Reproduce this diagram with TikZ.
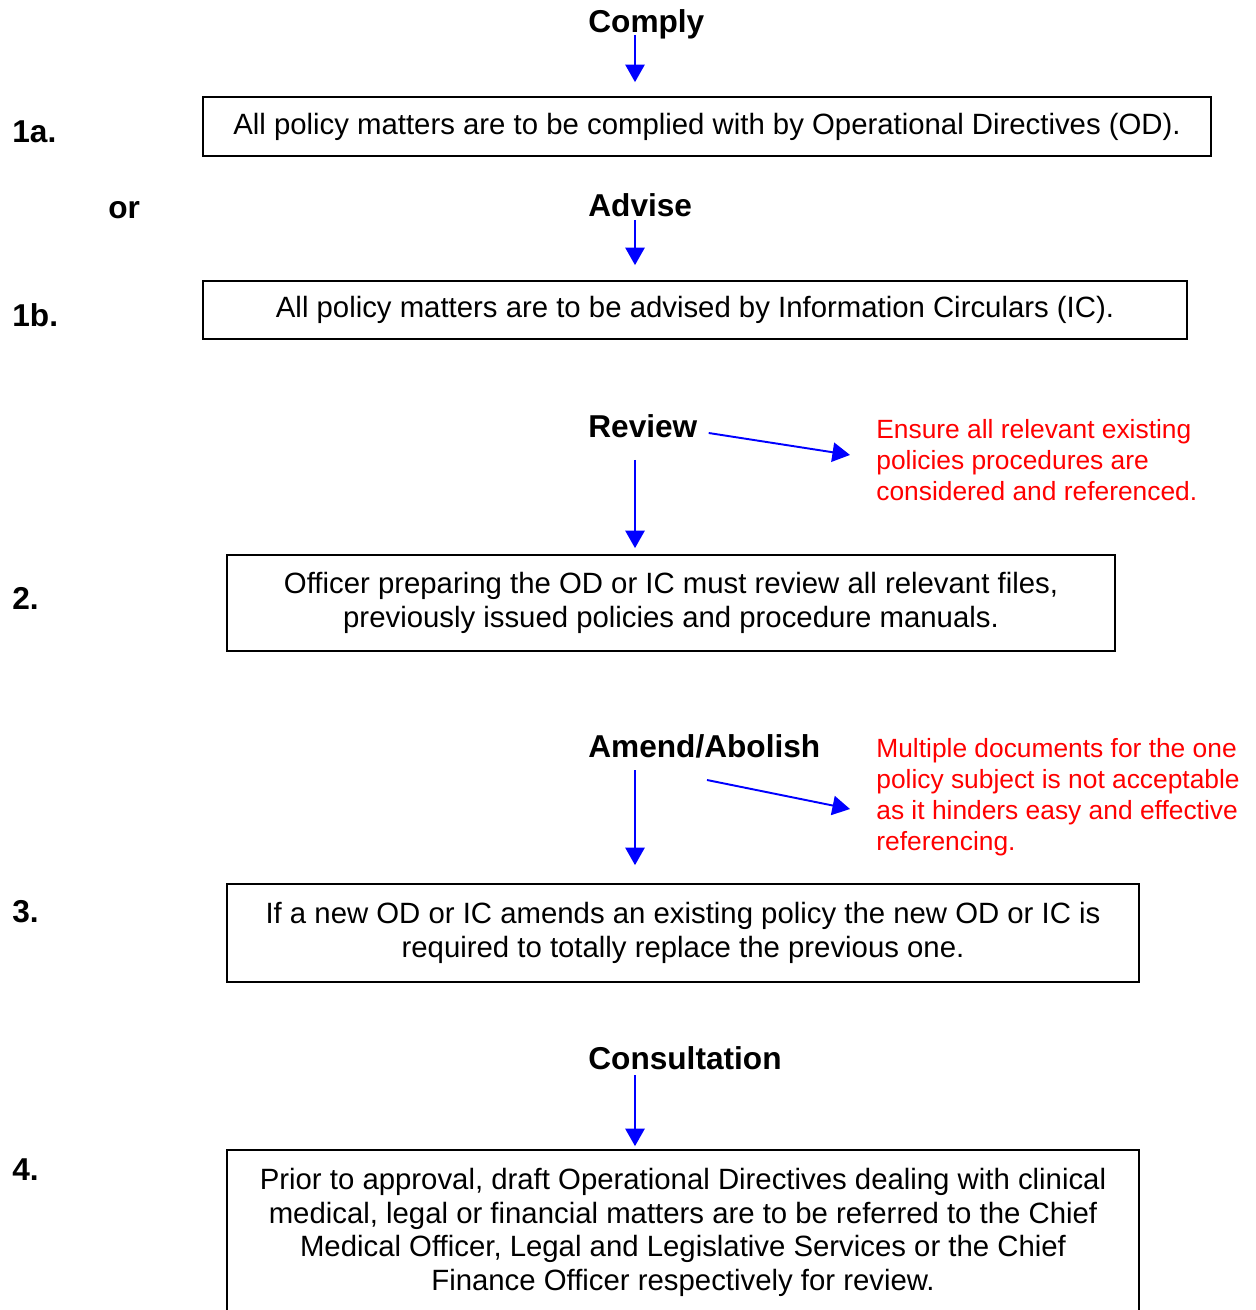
\documentclass[tikz,border=0pt]{standalone}
\usepackage{fontspec}
\setmainfont{Liberation Sans}
\usetikzlibrary{positioning,arrows.meta}
\definecolor{arrowblue}{RGB}{0,0,255}
\definecolor{notered}{RGB}{255,0,0}

\begin{document}
\begin{tikzpicture}[
    x=0.02cm, y=-0.02cm,
    stepbox/.style={rectangle, draw, line width=1pt, inner sep=0pt, align=center, font=\fontsize{16.7}{19.2}\selectfont},
    heading/.style={anchor=base west, inner sep=0pt, font=\fontsize{18}{21}\selectfont\bfseries},
    note/.style={anchor=north west, inner sep=0pt, align=left, text=notered, font=\fontsize{15}{17.6}\selectfont},
    flow/.style={draw=arrowblue, line width=1.1pt, -{Triangle[length=10pt,width=11pt]}}
]
\useasboundingbox (0,0) rectangle (1255,1310);
\clip (0,0) rectangle (1255,1310);
\coordinate (axis) at (635,0);

% step numbers
\node[heading] (n1a) at (12,143) {1a.};
\node[heading] (nor) at (108,219) {or};
\node[heading] (n1b) at (12,327) {1b.};
\node[heading] (n2) at (12,609) {2.};
\node[heading] (n3) at (12,922) {3.};
\node[heading] (n4) at (12,1180) {4.};

% headings
\node[heading] (comply) at (588,33) {Comply};
\node[heading] (advise) at (588,217) {Advise};
\node[heading] (review) at (588,438) {Review};
\node[heading] (amend) at (588,757) {Amend/Abolish};
\node[heading] (consult) at (588,1069) {Consultation};

% boxes
\node[stepbox, minimum width=20.16cm, minimum height=1.18cm] (b1a) at (707,126.5)
    {All policy matters are to be complied with by Operational Directives (OD).};
\node[stepbox, minimum width=19.68cm, minimum height=1.16cm] (b1b) at (695,310)
    {All policy matters are to be advised by Information Circulars (IC).};
\node[stepbox, minimum width=17.76cm, minimum height=1.92cm] (b2) at (671,603)
    {Officer preparing the OD or IC must review all relevant files,\\previously issued policies and procedure manuals.};
\node[stepbox, minimum width=18.24cm, minimum height=1.96cm] (b3) at (683,933)
    {If a new OD or IC amends an existing policy the new OD or IC is\\required to totally replace the previous one.};
\node[stepbox, minimum width=18.24cm, minimum height=3.3cm] (b4) at (683,1232.5)
    {Prior to approval, draft Operational Directives dealing with clinical\\medical, legal or financial matters are to be referred to the Chief\\Medical Officer, Legal and Legislative Services or the Chief\\Finance Officer respectively for review.};

% notes
\node[note] (note1) at (876,419)
    {Ensure all relevant existing\\policies procedures are\\considered and referenced.};
\node[note] (note2) at (876,738)
    {Multiple documents for the one\\policy subject is not acceptable\\as it hinders easy and effective\\referencing.};

% arrows
\draw[flow, shorten <=0.04cm, shorten >=0.28cm] (comply.base -| axis) -- (b1a.north -| axis);
\draw[flow, shorten <=0.06cm, shorten >=0.3cm] (advise.base -| axis) -- (b1b.north -| axis);
\draw[flow, shorten <=0.44cm, shorten >=0.12cm] (review.base -| axis) -- (b2.north -| axis);
\draw[flow, shorten <=0.26cm, shorten >=0.36cm] (amend.base -| axis) -- (b3.north -| axis);
\draw[flow, shorten <=0.12cm, shorten >=0.06cm] (consult.base -| axis) -- (b4.north -| axis);
\draw[flow] ([xshift=0.22cm,yshift=0.1cm]review.base east) -- ([xshift=-0.52cm,yshift=0.1cm]note1.west);
\draw[flow] ([xshift=2.38cm,yshift=-0.46cm]amend.base west) -- ([xshift=-0.52cm,yshift=-0.24cm]note2.west);
\end{tikzpicture}
\end{document}
